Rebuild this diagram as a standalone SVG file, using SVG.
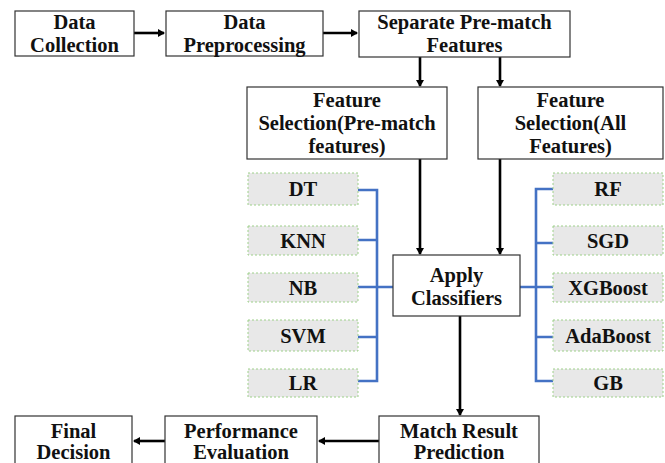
<svg xmlns="http://www.w3.org/2000/svg" width="665" height="463" viewBox="0 0 665 463">
<style>
.box{fill:#fff;stroke:#333;stroke-width:1.2}
.clf{fill:#e8e8e8;stroke:#9ed08a;stroke-width:1;stroke-dasharray:2 2}
text{font-family:"Liberation Serif","Times New Roman",serif;font-weight:bold;font-size:20.5px;fill:#111;text-anchor:middle}
.ar{stroke:#000;stroke-width:2.6;fill:none}
.bl{stroke:#4472c4;stroke-width:2.6;fill:none}
</style>
<defs>
<marker id="ah" markerWidth="8" markerHeight="8" refX="6" refY="4" orient="auto" markerUnits="userSpaceOnUse"><path d="M0,0 L7,4 L0,8 Z" fill="#000"/></marker>
</defs>
<rect width="665" height="463" fill="#fff"/>
<g id="connectors">
<line class="ar" x1="134" y1="33" x2="164" y2="33" marker-end="url(#ah)"/>
<line class="ar" x1="323" y1="33" x2="357" y2="33" marker-end="url(#ah)"/>
<line class="ar" x1="420" y1="57" x2="420" y2="86" marker-end="url(#ah)"/>
<line class="ar" x1="500" y1="57" x2="500" y2="86" marker-end="url(#ah)"/>
<line class="ar" x1="420" y1="159" x2="420" y2="254" marker-end="url(#ah)"/>
<line class="ar" x1="500" y1="159" x2="500" y2="254" marker-end="url(#ah)"/>
<line class="ar" x1="460" y1="311" x2="460" y2="415" marker-end="url(#ah)"/>
<line class="ar" x1="379" y1="441" x2="319" y2="441" marker-end="url(#ah)"/>
<line class="ar" x1="165" y1="441" x2="134" y2="441" marker-end="url(#ah)"/>
<path class="bl" d="M358,190 H377 V381 H358 M358,240 H377 M358,287 H393 M358,337 H377"/>
<path class="bl" d="M553,189 H536 V381 H553 M553,243 H536 M520,287 H553 M553,337 H536"/>
</g>
<g id="data-collection"><rect class="box" x="15" y="11" width="119" height="45"/><text x="74.5" y="29">Data</text><text x="74.5" y="52">Collection</text></g>
<g id="data-preprocessing"><rect class="box" x="166" y="11" width="157" height="45"/><text x="244.5" y="29">Data</text><text x="244.5" y="52">Preprocessing</text></g>
<g id="separate"><rect class="box" x="359" y="11" width="211" height="46"/><text x="464.5" y="29">Separate Pre-match</text><text x="464.5" y="52">Features</text></g>
<g id="fs-prematch"><rect class="box" x="247" y="87" width="200" height="72"/><text x="347" y="107">Feature</text><text x="347" y="130">Selection(Pre-match</text><text x="347" y="153">features)</text></g>
<g id="fs-all"><rect class="box" x="478" y="87" width="185" height="72"/><text x="570.5" y="107">Feature</text><text x="570.5" y="130">Selection(All</text><text x="570.5" y="153">Features)</text></g>
<g id="apply"><rect class="box" x="393" y="255" width="127" height="61"/><text x="456.5" y="282">Apply</text><text x="456.5" y="305">Classifiers</text></g>
<g id="match-result"><rect class="box" x="379" y="416" width="160" height="50"/><text x="459" y="438">Match Result</text><text x="459" y="459">Prediction</text></g>
<g id="performance"><rect class="box" x="165" y="416" width="152" height="50"/><text x="241" y="438">Performance</text><text x="241" y="459">Evaluation</text></g>
<g id="final"><rect class="box" x="15" y="416" width="117" height="50"/><text x="73.5" y="438">Final</text><text x="73.5" y="459">Decision</text></g>
<g id="dt"><rect class="clf" x="248" y="173" width="110" height="32"/><text x="303" y="196">DT</text></g>
<g id="knn"><rect class="clf" x="248" y="226" width="110" height="29"/><text x="303" y="248">KNN</text></g>
<g id="nb"><rect class="clf" x="248" y="273" width="110" height="29"/><text x="303" y="295">NB</text></g>
<g id="svm"><rect class="clf" x="248" y="320" width="110" height="31"/><text x="303" y="343">SVM</text></g>
<g id="lr"><rect class="clf" x="248" y="369" width="110" height="28"/><text x="303" y="390">LR</text></g>
<g id="rf"><rect class="clf" x="553" y="173" width="110" height="32"/><text x="608" y="196">RF</text></g>
<g id="sgd"><rect class="clf" x="553" y="226" width="110" height="29"/><text x="608" y="248">SGD</text></g>
<g id="xgboost"><rect class="clf" x="553" y="273" width="110" height="29"/><text x="608" y="295">XGBoost</text></g>
<g id="adaboost"><rect class="clf" x="553" y="320" width="110" height="31"/><text x="608" y="343">AdaBoost</text></g>
<g id="gb"><rect class="clf" x="553" y="369" width="110" height="28"/><text x="608" y="390">GB</text></g>
</svg>
